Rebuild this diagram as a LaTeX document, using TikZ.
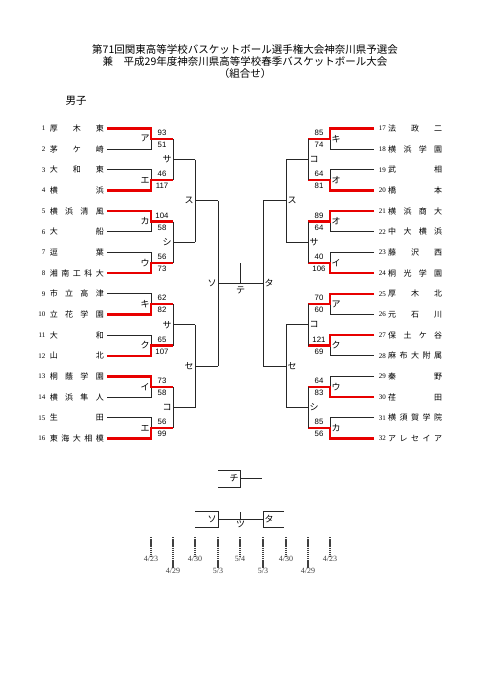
\documentclass[tikz,border=0pt]{standalone}
\usepackage{fontspec}
\setmainfont{Liberation Serif}
\setsansfont{Liberation Sans}
\newfontfamily\jpfont{Noto Sans CJK JP}
\usetikzlibrary{positioning}
\usetikzlibrary{calc}
\definecolor{winred}{RGB}{232,0,0}
\newcommand\spreadname[1]{\makebox[54pt]{\spreadgo#1\relax}}
\def\spreadgo#1#2{#1\ifx\relax#2\else\hfill\expandafter\spreadgo\expandafter#2\fi}
\tikzset{
  title_txt/.style = {inner sep=0pt, font=\jpfont\fontsize{10.5}{12}\selectfont},
  team_name/.style = {inner sep=0pt, font=\jpfont\fontsize{8}{8}\selectfont},% nom d'equipe
  team_num/.style = {inner sep=0pt, font=\fontsize{7}{7}\selectfont},% numero
  score_txt/.style = {inner sep=0pt, font=\sffamily\fontsize{7.8}{7.8}\selectfont},
  round_lbl/.style = {inner sep=0pt, font=\jpfont\fontsize{9}{9}\selectfont},% nom du match
  bracket_line/.style = {draw=black!85, line width=0.8pt},
  win_line/.style = {draw=winred, line width=2.2pt},% vainqueur
  date_line/.style = {draw=black!75, line width=1.2pt, dash pattern=on 1.4pt off 0.7pt},
  date_txt/.style = {inner sep=0pt, font=\fontsize{8}{8}\selectfont, text=black!75}
}
\begin{document}
\begin{tikzpicture}[x=1pt, y=-1pt]
  \useasboundingbox (0,0) rectangle (481,680);
  \node[title_txt] (title1) at (245,50) {第71回関東高等学校バスケットボール選手権大会神奈川県予選会};
  \node[title_txt, below=1.5pt of title1] (title2) {兼　平成29年度神奈川県高等学校春季バスケットボール大会};
  \node[title_txt, below=1.5pt of title2] (title3) {（組合せ）};
  \node[title_txt] (boys) at (76,101) {男子};
  % equipes
  \foreach \i/\nm in {1/厚木東,2/茅ケ崎,3/大和東,4/横浜,5/横浜清風,6/大船,7/逗葉,8/湘南工科大,
      9/市立高津,10/立花学園,11/大和,12/山北,13/桐蔭学園,14/横浜隼人,15/生田,16/東海大相模}{
    \pgfmathsetmacro\ry{128.5+(\i-1)*20.67}
    \node[team_name, anchor=east] (t\i) at (104,\ry) {\expandafter\spreadname\expandafter{\nm}};
    \node[team_num, left=4pt of t\i] (n\i) {\i};
    \coordinate (e\i) at (107,\ry);
    \coordinate (j\i) at (151,\ry);
  }
  \foreach \i/\nm in {17/法政二,18/横浜学園,19/武相,20/橋本,21/横浜商大,22/中大横浜,23/藤沢西,24/桐光学園,
      25/厚木北,26/元石川,27/保土ケ谷,28/麻布大附属,29/秦野,30/荏田,31/横須賀学院,32/アレセイア}{
    \pgfmathsetmacro\ry{128.5+(\i-17)*20.67}
    \node[team_name, anchor=west] (t\i) at (388,\ry) {\expandafter\spreadname\expandafter{\nm}};
    \node[team_num, left=2pt of t\i] (n\i) {\i};
    \coordinate (e\i) at (374,\ry);
    \coordinate (j\i) at (330,\ry);
  }
  % 1回戦
  \foreach \k/\lb/\sa/\sb/\w in {1/ア/93/51/1,2/エ/46/117/4,3/カ/104/58/5,4/ウ/56/73/8,
      5/キ/62/82/10,6/ク/65/107/12,7/イ/73/58/13,8/エ/56/99/16,
      9/キ/85/74/17,10/オ/64/81/20,11/オ/89/64/21,12/イ/40/106/24,
      13/ア/70/60/25,14/ク/121/69/27,15/ウ/64/83/30,16/カ/85/56/32}{
    \pgfmathtruncatemacro\ta{2*\k-1}
    \pgfmathtruncatemacro\tb{2*\k}
    \pgfmathsetmacro\dx{\k<9 ? 22 : -22}
    \pgfmathsetmacro\lx{\k<9 ? -6 : 6}
    \coordinate (m\k) at ($(j\ta)!0.5!(j\tb)$);
    \coordinate (q\k) at ($(m\k)+(\dx,0)$);
    \draw[bracket_line] (e\ta) -- (j\ta) -- (j\tb) -- (e\tb);
    \draw[win_line] (e\w) -- (j\w) -- (m\k) -- (q\k);
    \node[round_lbl] (a\k) at ($(m\k)+(\lx,0)$) {\lb};
    \node[score_txt] (sa\k) at ($(m\k)!0.5!(q\k)+(0,-6)$) {\sa};
    \node[score_txt] (sb\k) at ($(m\k)!0.5!(q\k)+(0,6)$) {\sb};
  }
  % 2回戦
  \foreach \k/\lb in {1/サ,2/シ,3/サ,4/コ,5/コ,6/サ,7/コ,8/シ}{
    \pgfmathtruncatemacro\ua{2*\k-1}
    \pgfmathtruncatemacro\ub{2*\k}
    \pgfmathsetmacro\dx{\k<5 ? 22 : -22}
    \pgfmathsetmacro\lx{\k<5 ? -6 : 6}
    \coordinate (p\k) at ($(q\ua)!0.5!(q\ub)$);
    \coordinate (pq\k) at ($(p\k)+(\dx,0)$);
    \draw[bracket_line] (q\ua) -- (q\ub);
    \draw[bracket_line] (p\k) -- (pq\k);
    \node[round_lbl] (b\k) at ($(p\k)+(\lx,0)$) {\lb};
  }
  % 3回戦
  \foreach \k/\lb in {1/ス,2/セ,3/ス,4/セ}{
    \pgfmathtruncatemacro\ua{2*\k-1}
    \pgfmathtruncatemacro\ub{2*\k}
    \pgfmathsetmacro\dx{\k<3 ? 23 : -23}
    \pgfmathsetmacro\lx{\k<3 ? -6 : 6}
    \coordinate (h\k) at ($(pq\ua)!0.5!(pq\ub)$);
    \coordinate (hq\k) at ($(h\k)+(\dx,0)$);
    \draw[bracket_line] (pq\ua) -- (pq\ub);
    \draw[bracket_line] (h\k) -- (hq\k);
    \node[round_lbl] (c\k) at ($(h\k)+(\lx,0)$) {\lb};
  }
  % demi-finales, finale
  \coordinate (fl) at ($(hq1)!0.5!(hq2)$);
  \coordinate (fr) at ($(hq3)!0.5!(hq4)$);
  \coordinate (fm) at ($(fl)!0.5!(fr)$);
  \coordinate (ft) at ($(fm)+(0,-21)$);
  \draw[bracket_line] (hq1) -- (hq2);
  \draw[bracket_line] (hq3) -- (hq4);
  \draw[bracket_line] (fl) -- (fr);
  \draw[bracket_line] (fm) -- (ft);
  \node[round_lbl] (lbl_so) at ($(fl)+(-6,0)$) {ソ};
  \node[round_lbl] (lbl_ta) at ($(fr)+(6,0)$) {タ};
  \node[round_lbl] (lbl_te) at ($(fm)+(0,6.5)$) {テ};
  % 3位決定戦
  \coordinate (ca) at (218,470);
  \coordinate (cb) at (240,470);
  \coordinate (cc) at (240,487);
  \coordinate (cd) at (218,487);
  \coordinate (cm) at ($(cb)!0.5!(cc)$);
  \coordinate (ce) at ($(cm)+(22,0)$);
  \draw[bracket_line] (ca) -- (cb) -- (cc) -- (cd);
  \draw[bracket_line] (cm) -- (ce);
  \node[round_lbl] (lbl_chi) at ($(cm)+(-6,0)$) {チ};
  % finale (bas)
  \coordinate (la) at (195,511);
  \coordinate (lb) at (218,511);
  \coordinate (lc) at (218,527);
  \coordinate (ld) at (195,527);
  \coordinate (ra) at (284,511);
  \coordinate (rb) at (263,511);
  \coordinate (rc) at (263,527);
  \coordinate (rd) at (284,527);
  \coordinate (lm) at ($(lb)!0.5!(lc)$);
  \coordinate (rm) at ($(rb)!0.5!(rc)$);
  \coordinate (tm) at ($(lm)!0.5!(rm)$);
  \coordinate (tt) at ($(tm)+(0,-7)$);
  \draw[bracket_line] (la) -- (lb) -- (lc) -- (ld);
  \draw[bracket_line] (ra) -- (rb) -- (rc) -- (rd);
  \draw[bracket_line] (lm) -- (rm);
  \draw[bracket_line] (tm) -- (tt);
  \node[round_lbl] (lbl_so2) at ($(lm)+(-6,0)$) {ソ};
  \node[round_lbl] (lbl_ta2) at ($(rm)+(6,0)$) {タ};
  \node[round_lbl] (lbl_tsu) at ($(tm)+(0,5.5)$) {ツ};
  % dates
  \foreach \x/\mo/\dd/\lo in {151/4/23/0,173/4/29/1,195/4/30/0,218/5/3/1,240/5/4/0,
      263/5/3/1,286/4/30/0,308/4/29/1,330/4/23/0}{
    \coordinate (dtop\x) at (\x,537);
    \node[date_txt, anchor=north] (dt\x) at (\x,{556+12*\lo}) {\mo/\dd};
    \draw[date_line] (dtop\x) -- (dt\x.north);
  }
\end{tikzpicture}
\end{document}
